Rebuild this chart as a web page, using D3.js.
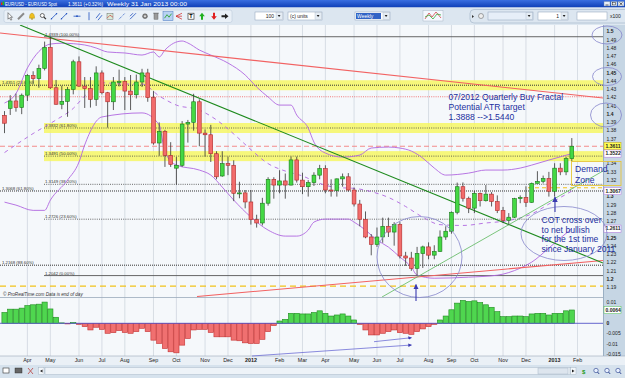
<!DOCTYPE html>
<html lang="en">
<head>
<meta charset="UTF-8">
<title>EUR/USD Weekly</title>
<script src="https://d3js.org/d3.v7.min.js"></script>
<style>
    body { margin: 0; padding: 0; background: #fff; overflow: hidden; }
    svg { display: block; font-family: "Liberation Sans", Arial, sans-serif; }
    .axis-label { font-size: 5px; fill: #222; }
    .fib-label { font-size: 4.3px; fill: #333; }
    .note { font-size: 8.6px; fill: #1c2fa0; }
    .month { font-size: 5.4px; fill: #222; }
</style>
</head>
<body>
<script>
// ---------- data (weekly EUR/USD, first bar = week of 7 Mar 2011) ----------
const firstWeek = new Date(2011, 2, 7);

const opens = [
    1.3985, 1.4070, 1.4160, 1.4080, 1.4230, 1.4470, 1.4430, 1.4555, 1.4810, 1.4320,
    1.4120, 1.4155, 1.4300, 1.4635, 1.4340, 1.4310, 1.4180, 1.4500, 1.4260, 1.4150,
    1.4390, 1.4395, 1.4280, 1.4235, 1.4390, 1.4500, 1.4200, 1.3650, 1.3790, 1.3500,
    1.3345, 1.3380, 1.3880, 1.3900, 1.4150, 1.3770, 1.3750, 1.3520, 1.3250, 1.3400,
    1.3380, 1.3040, 1.3045, 1.2935, 1.2720, 1.2680, 1.2920, 1.3210, 1.3140, 1.3190,
    1.3140, 1.3445, 1.3200, 1.3120, 1.3170, 1.3260, 1.3340, 1.3080, 1.3075, 1.3215,
    1.3240, 1.3080, 1.2910, 1.2725, 1.2510, 1.2420, 1.2510, 1.2640, 1.2570, 1.2660,
    1.2280, 1.2255, 1.2130, 1.2310, 1.2390, 1.2290, 1.2335, 1.2510, 1.2580, 1.2810,
    1.3120, 1.2980, 1.2860, 1.3040, 1.2950, 1.3030, 1.2940, 1.2830, 1.2710, 1.2750,
    1.2975, 1.2990, 1.2930, 1.3160, 1.3185, 1.3220, 1.3065, 1.3345, 1.3300, 1.3460
];
const highs = [
    1.4037, 1.4230, 1.4250, 1.4250, 1.4485, 1.4520, 1.4600, 1.4880, 1.4939, 1.4415,
    1.4345, 1.4330, 1.4660, 1.4700, 1.4450, 1.4450, 1.4580, 1.4530, 1.4270, 1.4450,
    1.4540, 1.4450, 1.4475, 1.4480, 1.4550, 1.4550, 1.4280, 1.3900, 1.3810, 1.3660,
    1.3480, 1.3916, 1.3930, 1.4247, 1.4180, 1.3815, 1.3870, 1.3550, 1.3550, 1.3485,
    1.3440, 1.3180, 1.3080, 1.3080, 1.2780, 1.2985, 1.3235, 1.3235, 1.3320, 1.3280,
    1.3486, 1.3485, 1.3290, 1.3200, 1.3295, 1.3385, 1.3380, 1.3210, 1.3220, 1.3280,
    1.3285, 1.3110, 1.2960, 1.2820, 1.2545, 1.2625, 1.2745, 1.2745, 1.2690, 1.2690,
    1.2330, 1.2330, 1.2390, 1.2405, 1.2445, 1.2410, 1.2590, 1.2640, 1.2820, 1.3170,
    1.3172, 1.3000, 1.3070, 1.3050, 1.3140, 1.3055, 1.3015, 1.2875, 1.2800, 1.2985,
    1.3015, 1.3125, 1.3170, 1.3308, 1.3255, 1.3300, 1.3405, 1.3405, 1.3480, 1.3710
];
const lows = [
    1.3770, 1.3990, 1.4030, 1.4000, 1.4160, 1.4370, 1.4320, 1.4530, 1.4305, 1.4115,
    1.4060, 1.3968, 1.4240, 1.4330, 1.4075, 1.4080, 1.4100, 1.4240, 1.3837, 1.4050,
    1.4335, 1.4050, 1.4050, 1.4190, 1.4330, 1.4150, 1.3630, 1.3495, 1.3360, 1.3360,
    1.3146, 1.3360, 1.3655, 1.3800, 1.3610, 1.3485, 1.3420, 1.3210, 1.3240, 1.3260,
    1.2945, 1.2980, 1.2858, 1.2660, 1.2624, 1.2650, 1.2890, 1.2975, 1.3040, 1.2975,
    1.3135, 1.3170, 1.3030, 1.3000, 1.3130, 1.3210, 1.3040, 1.3000, 1.3000, 1.3120,
    1.3060, 1.2880, 1.2640, 1.2495, 1.2288, 1.2390, 1.2440, 1.2510, 1.2405, 1.2250,
    1.2160, 1.2100, 1.2042, 1.2135, 1.2240, 1.2240, 1.2330, 1.2475, 1.2550, 1.2785,
    1.2940, 1.2800, 1.2800, 1.2880, 1.2940, 1.2880, 1.2800, 1.2680, 1.2661, 1.2740,
    1.2920, 1.2875, 1.2925, 1.3160, 1.3160, 1.3000, 1.3000, 1.3260, 1.3260, 1.3420
];
const closes = [
    1.3890, 1.4160, 1.4080, 1.4230, 1.4470, 1.4430, 1.4555, 1.4810, 1.4320, 1.4120,
    1.4155, 1.4300, 1.4635, 1.4340, 1.4310, 1.4180, 1.4500, 1.4260, 1.4150, 1.4390,
    1.4395, 1.4280, 1.4235, 1.4390, 1.4500, 1.4200, 1.3650, 1.3790, 1.3500, 1.3390,
    1.3380, 1.3880, 1.3900, 1.4150, 1.3770, 1.3750, 1.3520, 1.3240, 1.3400, 1.3380,
    1.3040, 1.3045, 1.2935, 1.2720, 1.2680, 1.2920, 1.3210, 1.3140, 1.3190, 1.3140,
    1.3445, 1.3200, 1.3120, 1.3170, 1.3260, 1.3340, 1.3080, 1.3075, 1.3215, 1.3240,
    1.3080, 1.2910, 1.2725, 1.2510, 1.2420, 1.2510, 1.2640, 1.2570, 1.2660, 1.2280,
    1.2255, 1.2130, 1.2310, 1.2390, 1.2290, 1.2335, 1.2510, 1.2580, 1.2810, 1.3120,
    1.2980, 1.2860, 1.3040, 1.2950, 1.3030, 1.2940, 1.2830, 1.2710, 1.2750, 1.2975,
    1.2990, 1.2930, 1.3160, 1.3185, 1.3220, 1.3065, 1.3345, 1.3300, 1.3460, 1.3611
];

// oscillator histogram (lower panel)
const oscValues = [
    0.0052, 0.0068, 0.0068, 0.0073, 0.0085, 0.0089, 0.0092, 0.0102, 0.0069, 0.0029,
    0.0002, -0.0003, 0.0004, -0.0005, -0.0016, -0.0032, -0.0019, -0.0029, -0.0048, -0.0045,
    -0.0035, -0.0044, -0.0048, -0.0040, -0.0024, -0.0040, -0.0081, -0.0097, -0.0121, -0.0137,
    -0.0142, -0.0105, -0.0073, -0.0032, -0.0029, -0.0029, -0.0044, -0.0065, -0.0065, -0.0065,
    -0.0081, -0.0084, -0.0094, -0.0097, -0.0097, -0.0077, -0.0040, -0.0011, 0.0011, 0.0019,
    0.0048, 0.0048, 0.0045, 0.0045, 0.0052, 0.0060, 0.0048, 0.0035, 0.0040, 0.0045,
    0.0035, 0.0016, -0.0005, -0.0032, -0.0056, -0.0056, -0.0048, -0.0040, -0.0032, -0.0045,
    -0.0048, -0.0053, -0.0040, -0.0027, -0.0016, -0.0005, 0.0016, 0.0035, 0.0065, 0.0097,
    0.0110, 0.0105, 0.0108, 0.0100, 0.0089, 0.0077, 0.0056, 0.0032, 0.0032, 0.0035,
    0.0035, 0.0032, 0.0045, 0.0048, 0.0048, 0.0040, 0.0048, 0.0048, 0.0060, 0.0064
];

// Bollinger bands: [bar index, price]
const bbUpper = [[0,1.4135],[2,1.4250],[4,1.4560],[6,1.4760],[8,1.4850],[10,1.4860],[14,1.4839],[16,1.4802],
    [18,1.4754],[21,1.4742],[24,1.4717],[26,1.4754],[27,1.4693],[28,1.4778],[31,1.4887],[32,1.4863],
    [34,1.4778],[36,1.4717],[39,1.4620],[42,1.4475],[44,1.4329],[46,1.4208],[48,1.4110],[50,1.4110],
    [51,1.3989],[53,1.3831],[54,1.3661],[56,1.3528],[59,1.3479],[62,1.3504],[64,1.3589],[67,1.3601],
    [69,1.3589],[71,1.3552],[73,1.3467],[75,1.3346],[77,1.3261],[81,1.3285],[84,1.3322],[87,1.3322],
    [90,1.3346],[92,1.3382],[95,1.3443],[99,1.3522]];
const bbMiddle = [[0,1.3534],[5,1.3765],[9,1.3930],[12,1.4070],[14,1.4220],[17,1.4380],[21,1.4365],
    [24,1.4366],[27,1.4220],[30,1.4110],[34,1.4050],[37,1.3930],[40,1.3760],[43,1.3570],[46,1.3400],
    [49,1.3310],[52,1.3250],[55,1.3160],[58,1.3110],[61,1.3100],[64,1.3060],[67,1.2990],[70,1.2880],
    [73,1.2750],[76,1.2660],[80,1.2650],[84,1.2680],[88,1.2710],[92,1.2790],[95,1.2910],[99,1.3067]];
const bbLower = [[0,1.2933],[2,1.2897],[5,1.2833],[7,1.2833],[8,1.2957],[11,1.3200],[13,1.3419],
    [14,1.3627],[17,1.3966],[24,1.4015],[27,1.3869],[28,1.3541],[30,1.3382],[34,1.3322],[36,1.3261],
    [38,1.3115],[40,1.2958],[43,1.2752],[46,1.2594],[49,1.2521],[51,1.2521],[53,1.2594],[54,1.2691],
    [56,1.2727],[60,1.2727],[61,1.2691],[63,1.2594],[65,1.2473],[67,1.2388],[69,1.2267],[71,1.2145],
    [72,1.2047],[75,1.2010],[81,1.2023],[86,1.2047],[90,1.2132],[92,1.2205],[95,1.2376],[97,1.2497],
    [99,1.2611]];

// fibonacci retracement sets
const fibMain = [1.4939, 1.3832, 1.3491, 1.3149, 1.2726, 1.2042];
const fibMainPct = ["100.00%", "61.80%", "50.00%", "38.20%", "23.60%", "0.00%"];
const fibLeft = [1.4351, 1.3068, 1.2168];
const fibLeftPct = ["23.60%", "61.80%", "88.60%"];

const lastPrice = 1.3611;
const axisBoxes = [
    { v: 1.3611, fill: "#ffff55", stroke: "#c8a800", color: "#000" },
    { v: 1.3522, fill: "#ffffff", stroke: "#b070e0", color: "#9030c0" },
    { v: 1.3067, fill: "#ffffff", stroke: "#b070e0", color: "#9030c0" },
    { v: 1.2611, fill: "#ffffff", stroke: "#b070e0", color: "#9030c0" }
];
const oscTicks = [0.01, 0.005, 0, -0.005, -0.01, -0.015];
const oscTickLabels = ["0.01", "0.005", "0", "-0.005", "-0.01", "-0.015"];
const oscLast = 0.0064;

const noteFractal = ["07/2012 Quarterly Buy Fractal", "Potential ATR target", "1.3888 -->1.5440"];
const noteCot = ["COT cross over", "to net bullish", "for the 1st time", "since January 2011"];
const noteDemand = ["Demand", "Zone"];

// ---------- layout ----------
const W = 625, H = 378;
const PR = 603;                       // right edge of plot area
const MAIN_T = 25, MAIN_B = 297;
const IND_T = 298, IND_B = 356;

const svg = d3.select("body").append("svg").attr("width", W).attr("height", H);
const defs = svg.append("defs");

const x = d3.scaleLinear().domain([0, 99]).range([4.5, 571.8]);
const y = d3.scaleLinear().domain([1.19, 1.5]).range([287.3, 31.7]);
const yo = d3.scaleLinear().domain([-0.015, 0.01]).range([354.5, 302.5]);

const weeks = d3.timeMonday.range(firstWeek, d3.timeDay.offset(firstWeek, 7 * 101));

// gradients / clips / markers
const tg = defs.append("linearGradient").attr("id", "titleGrad").attr("x1", 0).attr("y1", 0).attr("x2", 0).attr("y2", 1);
tg.append("stop").attr("offset", 0).attr("stop-color", "#3a6fe0");
tg.append("stop").attr("offset", 1).attr("stop-color", "#0e3eb6");

defs.append("clipPath").attr("id", "clipMain").append("rect")
    .attr("x", 0).attr("y", MAIN_T).attr("width", PR).attr("height", MAIN_B - MAIN_T);

defs.append("marker")
    .attr("id", "arrowBlue").attr("viewBox", "0 0 10 10").attr("refX", 9).attr("refY", 5)
    .attr("markerWidth", 5).attr("markerHeight", 5).attr("orient", "auto")
    .append("path").attr("d", "M0,0 L10,5 L0,10 Z").attr("fill", "#3a3ab0");

// ---------- window chrome ----------
svg.append("rect").attr("width", W).attr("height", H).attr("fill", "#dfe8f1");
svg.append("rect").attr("width", W).attr("height", 7.5).attr("fill", "url(#titleGrad)");
svg.append("rect").attr("x", 1).attr("y", 2.5).attr("width", 1.6).attr("height", 2.5).attr("fill", "#e02020");
svg.append("rect").attr("x", 2.6).attr("y", 1.5).attr("width", 1.6).attr("height", 3.5).attr("fill", "#20c020");

const titleParts = [
    { t: "EUR/USD - EUR/USD Spot", x: 5, w: 52 },
    { t: "1.3611 (+0.32%)", x: 68, w: 35 },
    { t: "Weekly 31 Jan 2013 00:00", x: 107, w: 80 }
];
svg.selectAll(".title").data(titleParts).enter().append("text")
    .attr("x", d => d.x).attr("y", 5.6).attr("fill", "#fff")
    .attr("font-size", 5).attr("textLength", d => d.w).attr("lengthAdjust", "spacingAndGlyphs")
    .text(d => d.t);

// window buttons
[604, 611, 618].forEach(bx => {
    svg.append("rect").attr("x", bx).attr("y", 1.5).attr("width", 6).attr("height", 4.5)
        .attr("fill", "#e8eef6").attr("stroke", "#6080b0").attr("stroke-width", 0.4);
});
svg.append("path").attr("d", "M619.5,2.5 L622.5,5 M622.5,2.5 L619.5,5").attr("stroke", "#222").attr("stroke-width", 0.7);
svg.append("path").attr("d", "M605.5,5 L608.5,5").attr("stroke", "#222").attr("stroke-width", 0.7);
svg.append("rect").attr("x", 612.3).attr("y", 2.5).attr("width", 3).attr("height", 2.4).attr("fill", "none").attr("stroke", "#222").attr("stroke-width", 0.5);

// toolbar
svg.append("rect").attr("x", 0).attr("y", 7.5).attr("width", W).attr("height", 17).attr("fill", "#dce6f0");
svg.append("rect").attr("x", 4).attr("y", 10).attr("width", 228).attr("height", 12.5).attr("rx", 2)
    .attr("fill", "#e9f0f7").attr("stroke", "#b4c4d6").attr("stroke-width", 0.5);

const tb = svg.append("g");
function icon(cx, draw) { draw(tb.append("g").attr("transform", `translate(${cx},16.2)`)); }
icon(10, g => g.append("path").attr("d", "M-2,-3.5 L-2,3 L-0.6,1.6 L0.8,4 L1.8,3.4 L0.5,1.1 L2.5,1.1 Z").attr("fill", "#fff").attr("stroke", "#222").attr("stroke-width", 0.5));
icon(21, g => g.append("line").attr("x1", -3).attr("y1", 3).attr("x2", 3).attr("y2", -3).attr("stroke", "#8a8a8a").attr("stroke-width", 2));
icon(32, g => { g.append("path").attr("d", "M-2.5,2 Q-2.5,-3 0,-3 Q2.5,-3 2.5,2 Z").attr("fill", "#f0c020").attr("stroke", "#a08000").attr("stroke-width", 0.4); g.append("circle").attr("cy", 2.8).attr("r", 0.8).attr("fill", "#a08000"); });
icon(43, g => { g.append("circle").attr("cx", -0.7).attr("cy", -0.7).attr("r", 2).attr("fill", "#fff").attr("stroke", "#333").attr("stroke-width", 0.7); g.append("line").attr("x1", 0.8).attr("y1", 0.8).attr("x2", 3).attr("y2", 3).attr("stroke", "#333").attr("stroke-width", 1.1); });
[54, 64].forEach(cx => icon(cx, g => { g.append("line").attr("x1", -3).attr("y1", 3).attr("x2", 3).attr("y2", -3).attr("stroke", "#2050c0").attr("stroke-width", 0.8); g.append("circle").attr("cx", -2.5).attr("cy", 2.5).attr("r", 0.7).attr("fill", "#2050c0"); g.append("circle").attr("cx", 2.5).attr("cy", -2.5).attr("r", 0.7).attr("fill", "#2050c0"); }));
icon(77, g => { g.append("line").attr("x1", -3.5).attr("x2", 3.5).attr("stroke", "#2050c0").attr("stroke-width", 0.8); g.append("circle").attr("r", 0.9).attr("fill", "#2050c0"); });
icon(89, g => g.append("line").attr("y1", -4).attr("y2", 4).attr("stroke", "#2050c0").attr("stroke-width", 0.8));
icon(99, g => { g.append("path").attr("d", "M-3,2 L1,-3 M-1,4 L3,-1").attr("stroke", "#2050c0").attr("stroke-width", 0.8); });
icon(110, g => { g.append("rect").attr("x", -3).attr("y", -3).attr("width", 6).attr("height", 6).attr("fill", "#d8ead8").attr("stroke", "#555").attr("stroke-width", 0.4); g.append("path").attr("d", "M-3,2 L0,-1 L3,1").attr("stroke", "#d02020").attr("fill", "none").attr("stroke-width", 0.6); });
icon(122, g => g.append("line").attr("x1", -3).attr("y1", 3).attr("x2", 3).attr("y2", -3).attr("stroke", "#2050c0").attr("stroke-dasharray", "1,1").attr("stroke-width", 0.9));
icon(133, g => g.append("path").attr("d", "M-3,3 L3,-3 M-3,0 L0,-3").attr("stroke", "#2050c0").attr("stroke-width", 0.8));
icon(145, g => { g.append("circle").attr("r", 2.4).attr("fill", "#888").attr("stroke", "#444").attr("stroke-width", 0.5); g.append("circle").attr("r", 0.9).attr("fill", "#eee"); });
icon(156, g => { g.append("rect").attr("x", -2).attr("y", -2.5).attr("width", 4).attr("height", 5.5).attr("fill", "#9a9a9a").attr("stroke", "#555").attr("stroke-width", 0.4); g.append("line").attr("x1", -2.8).attr("x2", 2.8).attr("y1", -3).attr("y2", -3).attr("stroke", "#555").attr("stroke-width", 0.6); });
icon(168, g => { g.append("rect").attr("x", -5).attr("y", -4.5).attr("width", 10).attr("height", 9).attr("fill", "#b8d2f2").attr("stroke", "#4a78c0").attr("stroke-width", 0.5); g.append("path").attr("d", "M-3.5,2 L-1,-1.5 L1,1 L3.5,-2.5").attr("stroke", "#20a020").attr("fill", "none").attr("stroke-width", 0.8); });
icon(179, g => g.append("path").attr("d", "M-3,0 L3,-3 M-3,0 L3,0 M-3,0 L3,3").attr("stroke", "#d02020").attr("stroke-width", 0.7));
icon(191, g => { g.append("rect").attr("x", -3).attr("y", -3).attr("width", 6).attr("height", 6).attr("fill", "#fff").attr("stroke", "#222").attr("stroke-width", 0.6); g.append("text").attr("y", 2).attr("text-anchor", "middle").attr("font-size", 5.5).attr("font-weight", "bold").text("T"); });
icon(202, g => g.append("path").attr("d", "M0,-3.5 L2.8,0 L1,0 L1,3.5 L-1,3.5 L-1,0 L-2.8,0 Z").attr("fill", "#20b020"));
icon(214, g => g.append("path").attr("d", "M0,3.5 L2.8,0 L1,0 L1,-3.5 L-1,-3.5 L-1,0 L-2.8,0 Z").attr("fill", "#e02020"));
icon(225, g => g.append("path").attr("d", "M3.5,0 L0,-2.8 L0,-1 L-3.5,-1 L-3.5,1 L0,1 L0,2.8 Z").attr("fill", "#222"));

// toolbar inputs
function box(x0, w, txt, opts = {}) {
    svg.append("rect").attr("x", x0).attr("y", 12).attr("width", w).attr("height", 8)
        .attr("fill", opts.fill || "#fff").attr("stroke", "#8aa0b8").attr("stroke-width", 0.5);
    if (opts.sel) svg.append("rect").attr("x", x0 + 1).attr("y", 13).attr("width", opts.sel).attr("height", 6).attr("fill", "#3163c6");
    if (txt) svg.append("text").attr("x", opts.right ? x0 + w - (opts.drop ? 9 : 2) : x0 + 2).attr("y", 17.8)
        .attr("text-anchor", opts.right ? "end" : "start").attr("font-size", 5)
        .attr("fill", opts.sel ? "#fff" : "#222").text(txt);
    if (opts.drop) {
        svg.append("rect").attr("x", x0 + w - 7).attr("y", 12.8).attr("width", 6.3).attr("height", 6.4).attr("fill", "#e4ecf4").attr("stroke", "#9ab").attr("stroke-width", 0.3);
        svg.append("path").attr("d", `M${x0 + w - 5.3},15 L${x0 + w - 2.5},15 L${x0 + w - 3.9},17 Z`).attr("fill", "#222");
    }
}
box(255, 28, "100", { right: true, drop: true });
box(288, 34, "(c) units", { drop: true });
box(355, 35, "Weekly", { drop: true, sel: 25 });
svg.append("rect").attr("x", 423).attr("y", 10.5).attr("width", 20).attr("height", 10.5).attr("fill", "#f4f8ff").attr("stroke", "#9ab").attr("stroke-width", 0.4);
svg.append("path").attr("d", "M425,19 L429,13 L432,17 L436,12 L441,18").attr("fill", "none").attr("stroke", "#d03030").attr("stroke-width", 0.7);
svg.append("path").attr("d", "M425,17 L429,15 L433,19 L437,14 L441,15").attr("fill", "none").attr("stroke", "#20a020").attr("stroke-width", 0.7);
svg.append("rect").attr("x", 470).attr("y", 9.5).attr("width", 160).attr("height", 13.5).attr("rx", 4)
    .attr("fill", "none").attr("stroke", "#9fb2c6").attr("stroke-width", 0.6);
svg.append("path").attr("d", "M472,15 L474,16.5 L472,18 Z").attr("fill", "#333");
svg.append("circle").attr("cx", 481).attr("cy", 16).attr("r", 2.5).attr("fill", "#eee").attr("stroke", "#555").attr("stroke-width", 0.5);
box(488, 45, "", { drop: true, fill: "#e6eef8" });
box(538, 30, "1", { right: true, drop: true });
box(577, 30, "", {});
svg.append("text").attr("x", 610).attr("y", 17.8).attr("font-size", 5).attr("fill", "#222").text("x100");

// ---------- plot backgrounds ----------
svg.append("rect").attr("x", 0).attr("y", MAIN_T).attr("width", PR).attr("height", IND_B - MAIN_T).attr("fill", "#f5f8fb");
svg.append("rect").attr("x", PR).attr("y", MAIN_T).attr("width", W - PR).attr("height", IND_B - MAIN_T).attr("fill", "#c6d6e4");
svg.append("line").attr("x1", PR + 0.5).attr("x2", PR + 0.5).attr("y1", MAIN_T).attr("y2", IND_B).attr("stroke", "#8fa5ba").attr("stroke-width", 0.8);
svg.append("rect").attr("x", 0).attr("y", IND_B).attr("width", W).attr("height", 9).attr("fill", "#eaf0f6");

// month grid lines and labels
const monthTicks = d3.range(1, weeks.length).filter(i => weeks[i].getMonth() !== weeks[i - 1].getMonth());
svg.selectAll(".vgrid").data(monthTicks).enter().append("line")
    .attr("x1", d => x(d)).attr("x2", d => x(d)).attr("y1", MAIN_T).attr("y2", IND_B)
    .attr("stroke", "#cfd6de").attr("stroke-width", 0.8);
svg.selectAll(".month").data(monthTicks).enter().append("text")
    .attr("class", "month")
    .attr("x", d => x(d)).attr("y", 362.3).attr("text-anchor", "middle")
    .attr("font-weight", d => weeks[d].getMonth() === 0 ? "bold" : null)
    .text(d => weeks[d].getMonth() === 0 ? d3.timeFormat("%Y")(weeks[d]) : d3.timeFormat("%b")(weeks[d]));

svg.append("line").attr("x1", 0).attr("x2", PR).attr("y1", 297.5).attr("y2", 297.5).attr("stroke", "#9aaabb").attr("stroke-width", 0.8);
svg.append("line").attr("x1", 0).attr("x2", W).attr("y1", IND_B).attr("y2", IND_B).attr("stroke", "#9aaabb").attr("stroke-width", 0.6);

// ---------- main panel drawings ----------
const main = svg.append("g").attr("clip-path", "url(#clipMain)");

// yellow highlight bands
const bands = [{ p: 1.4351, x0: 0 }, { p: fibMain[1], x0: 44 }, { p: fibMain[2], x0: 44 }];
main.selectAll(".band").data(bands).enter().append("rect")
    .attr("x", d => d.x0).attr("y", d => y(d.p) - 5).attr("width", d => PR - d.x0).attr("height", 10)
    .attr("fill", "#f6f65e").attr("opacity", 0.82);

// fib lines
main.selectAll(".fibA").data(fibMain).enter().append("line")
    .attr("x1", 44).attr("x2", PR).attr("y1", d => y(d)).attr("y2", d => y(d))
    .attr("stroke", (d, i) => (i === 0 || i === fibMain.length - 1) ? "#555" : "#444")
    .attr("stroke-width", (d, i) => (i === 0 || i === fibMain.length - 1) ? 0.9 : 0.8)
    .attr("stroke-dasharray", (d, i) => (i === 0 || i === fibMain.length - 1) ? null : "1,1.2");
main.selectAll(".fibAL").data(fibMain).enter().append("text")
    .attr("class", "fib-label").attr("x", 45).attr("y", d => y(d) - 1)
    .text((d, i) => `${d.toFixed(4)} (${fibMainPct[i]})`);
main.selectAll(".fibB").data(fibLeft).enter().append("line")
    .attr("x1", 0).attr("x2", PR).attr("y1", d => y(d)).attr("y2", d => y(d))
    .attr("stroke", "#333").attr("stroke-width", 1).attr("stroke-dasharray", "1,1");
main.selectAll(".fibBL").data(fibLeft).enter().append("text")
    .attr("class", "fib-label").attr("x", 2).attr("y", d => y(d) - 1)
    .text((d, i) => `${d.toFixed(4)} (${fibLeftPct[i]})`);

// other horizontal levels
main.append("line").attr("x1", 0).attr("x2", PR).attr("y1", y(1.4211)).attr("y2", y(1.4211))
    .attr("stroke", "#f05a5a").attr("stroke-width", 0.8).attr("stroke-dasharray", "1,1.2");
main.append("line").attr("x1", 0).attr("x2", PR).attr("y1", y(lastPrice)).attr("y2", y(lastPrice))
    .attr("stroke", "#f38a8a").attr("stroke-width", 1.1).attr("stroke-dasharray", "5,3");
main.append("line").attr("x1", 0).attr("x2", PR).attr("y1", y(1.1914)).attr("y2", y(1.1914))
    .attr("stroke", "#f2c21a").attr("stroke-width", 1.4).attr("stroke-dasharray", "6,4");
main.append("line").attr("x1", 528).attr("x2", PR).attr("y1", y(1.3107)).attr("y2", y(1.3107))
    .attr("stroke", "#f2c21a").attr("stroke-width", 1).attr("stroke-dasharray", "4,3");

// Bollinger bands
const bbLine = d3.line().x(d => x(d[0])).y(d => y(d[1])).curve(d3.curveMonotoneX);
main.append("path").attr("d", bbLine(bbUpper)).attr("fill", "none").attr("stroke", "#b066e0").attr("stroke-width", 0.9);
main.append("path").attr("d", bbLine(bbLower)).attr("fill", "none").attr("stroke", "#b066e0").attr("stroke-width", 0.9);
main.append("path").attr("d", bbLine(bbMiddle)).attr("fill", "none").attr("stroke", "#b066e0").attr("stroke-width", 0.9).attr("stroke-dasharray", "4,4");

// trend lines
const trendLines = [
    { a: [0, 33], b: [PR, 98], c: "#f26262", w: 1.1 },
    { a: [197, 296.5], b: [PR, 260.5], c: "#f26262", w: 1.1 },
    { a: [20, 25], b: [PR, 263], c: "#1d8a1d", w: 1.1 },
    { a: [382, 297], b: [PR, 171], c: "#5cb85c", w: 0.8 }
];
main.selectAll(".trend").data(trendLines).enter().append("line")
    .attr("x1", d => d.a[0]).attr("y1", d => d.a[1]).attr("x2", d => d.b[0]).attr("y2", d => d.b[1])
    .attr("stroke", d => d.c).attr("stroke-width", d => d.w);

// candles
const bars = d3.range(opens.length);
const bw = 3.8;
main.selectAll(".wick").data(bars).enter().append("line")
    .attr("x1", d => x(d)).attr("x2", d => x(d))
    .attr("y1", d => y(highs[d])).attr("y2", d => y(lows[d]))
    .attr("stroke", "#333").attr("stroke-width", 0.8);
main.selectAll(".body").data(bars).enter().append("rect")
    .attr("x", d => x(d) - bw / 2)
    .attr("y", d => y(Math.max(opens[d], closes[d])))
    .attr("width", bw)
    .attr("height", d => Math.max(1, Math.abs(y(opens[d]) - y(closes[d]))))
    .attr("fill", d => closes[d] >= opens[d] ? "#44d844" : "#f26c6c")
    .attr("stroke", d => closes[d] >= opens[d] ? "#1a7a1a" : "#b02a2a")
    .attr("stroke-width", 0.6);

// copyright
svg.append("text").attr("x", 3).attr("y", 295.8).attr("font-size", 4.6).attr("font-style", "italic").attr("fill", "#333")
    .text("© ProRealTime.com   Data is end of day");

// ---------- oscillator panel ----------
svg.selectAll(".osc").data(bars).enter().append("rect")
    .attr("x", d => x(d) - 2.6).attr("width", 5.2)
    .attr("y", d => Math.min(yo(0), yo(oscValues[d])))
    .attr("height", d => Math.abs(yo(oscValues[d]) - yo(0)))
    .attr("fill", d => oscValues[d] >= 0 ? "#4fd64f" : "#f07070")
    .attr("stroke", d => oscValues[d] >= 0 ? "#1e8c1e" : "#c43030")
    .attr("stroke-width", 0.6);
svg.append("line").attr("x1", 0).attr("x2", PR).attr("y1", yo(0)).attr("y2", yo(0)).attr("stroke", "#5656c8").attr("stroke-width", 0.9);

const divergence = [
    { a: [252, 356], b: [411.5, 345] },
    { a: [374, 341.7], b: [411.5, 337.7] }
];
svg.selectAll(".div").data(divergence).enter().append("line")
    .attr("x1", d => d.a[0]).attr("y1", d => d.a[1]).attr("x2", d => d.b[0]).attr("y2", d => d.b[1])
    .attr("stroke", "#5a5ad0").attr("stroke-width", 0.7).attr("marker-end", "url(#arrowBlue)");

// ---------- right axes ----------
const priceTicks = d3.range(119, 151).map(d => d / 100);
const boxYs = axisBoxes.map(b => y(b.v));
svg.selectAll(".ptick").data(priceTicks.filter(v => boxYs.every(by => Math.abs(by - y(v)) > 5.5))).enter().append("text")
    .attr("class", "axis-label").attr("x", 606.5).attr("y", d => y(d)).attr("dy", "0.35em")
    .attr("font-weight", d => Math.round(d * 100) % 5 === 0 ? "bold" : null)
    .text(d => String(d));
const ab = svg.selectAll(".abox").data(axisBoxes).enter().append("g");
ab.append("rect").attr("x", 604).attr("y", d => y(d.v) - 3.6).attr("width", 17).attr("height", 7.2)
    .attr("fill", d => d.fill).attr("stroke", d => d.stroke).attr("stroke-width", 0.5);
ab.append("text").attr("class", "axis-label").attr("x", 605.5).attr("y", d => y(d.v)).attr("dy", "0.35em")
    .attr("fill", d => d.color).attr("font-weight", "bold").text(d => d.v.toFixed(4));

svg.selectAll(".otick").data(oscTicks.filter(v => Math.abs(yo(v) - yo(oscLast)) > 5)).enter().append("text")
    .attr("class", "axis-label").attr("x", 606.5).attr("y", d => yo(d)).attr("dy", "0.35em")
    .attr("font-weight", d => d === 0 ? "bold" : null)
    .text(d => oscTickLabels[oscTicks.indexOf(d)]);
svg.append("rect").attr("x", 604).attr("y", yo(oscLast) - 3.6).attr("width", 17).attr("height", 7.2)
    .attr("fill", "#fff").attr("stroke", "#4cc04c").attr("stroke-width", 0.5);
svg.append("text").attr("class", "axis-label").attr("x", 605.5).attr("y", yo(oscLast)).attr("dy", "0.35em")
    .attr("fill", "#2a9a2a").attr("font-weight", "bold").text(oscLast.toFixed(4));

// ---------- annotations ----------
const ellipses = [
    { cx: 419.5, cy: 257, rx: 42.5, ry: 40.5 },
    { cx: 564, cy: 233.5, rx: 43, ry: 27 },
    { cx: 607, cy: 35, rx: 15, ry: 9 },
    { cx: 607, cy: 76.5, rx: 14.5, ry: 9 },
    { cx: 606, cy: 115, rx: 15.5, ry: 12 }
];
svg.selectAll(".ell").data(ellipses).enter().append("ellipse")
    .attr("cx", d => d.cx).attr("cy", d => d.cy).attr("rx", d => d.rx).attr("ry", d => d.ry)
    .attr("fill", "none").attr("stroke", "#8585cc").attr("stroke-width", 0.8);

svg.append("line").attr("x1", 416).attr("y1", 301).attr("x2", 416).attr("y2", 284.5)
    .attr("stroke", "#3a3ab0").attr("stroke-width", 1.1).attr("marker-end", "url(#arrowBlue)");
svg.append("line").attr("x1", 555).attr("y1", 212).attr("x2", 555).attr("y2", 197)
    .attr("stroke", "#3a3ab0").attr("stroke-width", 1.1).attr("marker-end", "url(#arrowBlue)");

svg.append("rect").attr("x", 571.5).attr("y", 161.5).attr("width", 49.5).attr("height", 24)
    .attr("fill", "none").attr("stroke", "#e6c63a").attr("stroke-width", 0.9);
svg.selectAll(".nd").data(noteDemand).enter().append("text").attr("class", "note")
    .attr("x", 575).attr("y", (d, i) => 172 + i * 10.5).text(d => d);
svg.selectAll(".nf").data(noteFractal).enter().append("text").attr("class", "note")
    .attr("x", 448.5).attr("y", (d, i) => 100.2 + i * 9.7).text(d => d);
svg.selectAll(".nc").data(noteCot).enter().append("text").attr("class", "note")
    .attr("x", 541.5).attr("y", (d, i) => 223 + i * 9.6).attr("font-size", 8.3).text(d => d);

// ---------- bottom status bar ----------
svg.append("rect").attr("x", 0).attr("y", 365).attr("width", W).attr("height", 13).attr("fill", "#d6e2ed");
svg.append("rect").attr("x", 45).attr("y", 367.5).attr("width", 525).attr("height", 7).attr("fill", "#eef3f8").attr("stroke", "#a8b8c8").attr("stroke-width", 0.5);
svg.append("rect").attr("x", 538).attr("y", 368).attr("width", 30).attr("height", 6).attr("fill", "#dde5ee").attr("stroke", "#a8b8c8").attr("stroke-width", 0.5);
svg.append("rect").attr("x", 38.5).attr("y", 367.5).attr("width", 5.5).attr("height", 7).attr("fill", "#f2f6fa").attr("stroke", "#9ab").attr("stroke-width", 0.4);
svg.append("path").attr("d", "M42.5,369.5 L40,371 L42.5,372.5 Z").attr("fill", "#222");
svg.append("rect").attr("x", 570.5).attr("y", 367.5).attr("width", 5.5).attr("height", 7).attr("fill", "#f2f6fa").attr("stroke", "#9ab").attr("stroke-width", 0.4);
svg.append("path").attr("d", "M572,369.5 L574.5,371 L572,372.5 Z").attr("fill", "#222");
// small status icons
svg.append("rect").attr("x", 3).attr("y", 368).attr("width", 6).attr("height", 5).attr("fill", "#fff").attr("stroke", "#333").attr("stroke-width", 0.6);
svg.append("rect").attr("x", 15).attr("y", 368).attr("width", 7).attr("height", 5).attr("fill", "#666").attr("stroke", "#222").attr("stroke-width", 0.4);
svg.append("path").attr("d", "M28,368 L33,374 M33,368 L28,374").attr("stroke", "#c06060").attr("stroke-width", 1);
svg.append("text").attr("x", 582).attr("y", 374).attr("font-size", 6).attr("font-weight", "bold").attr("fill", "#1a9a1a").text("$");
[596, 607, 618].forEach(cx => {
    svg.append("circle").attr("cx", cx).attr("cy", 370.5).attr("r", 2.2).attr("fill", "#e8f0ff").attr("stroke", "#223a8a").attr("stroke-width", 0.6);
    svg.append("line").attr("x1", cx + 1.5).attr("y1", 372).attr("x2", cx + 3.2).attr("y2", 374).attr("stroke", "#223a8a").attr("stroke-width", 0.9);
});
</script>
</body>
</html>
